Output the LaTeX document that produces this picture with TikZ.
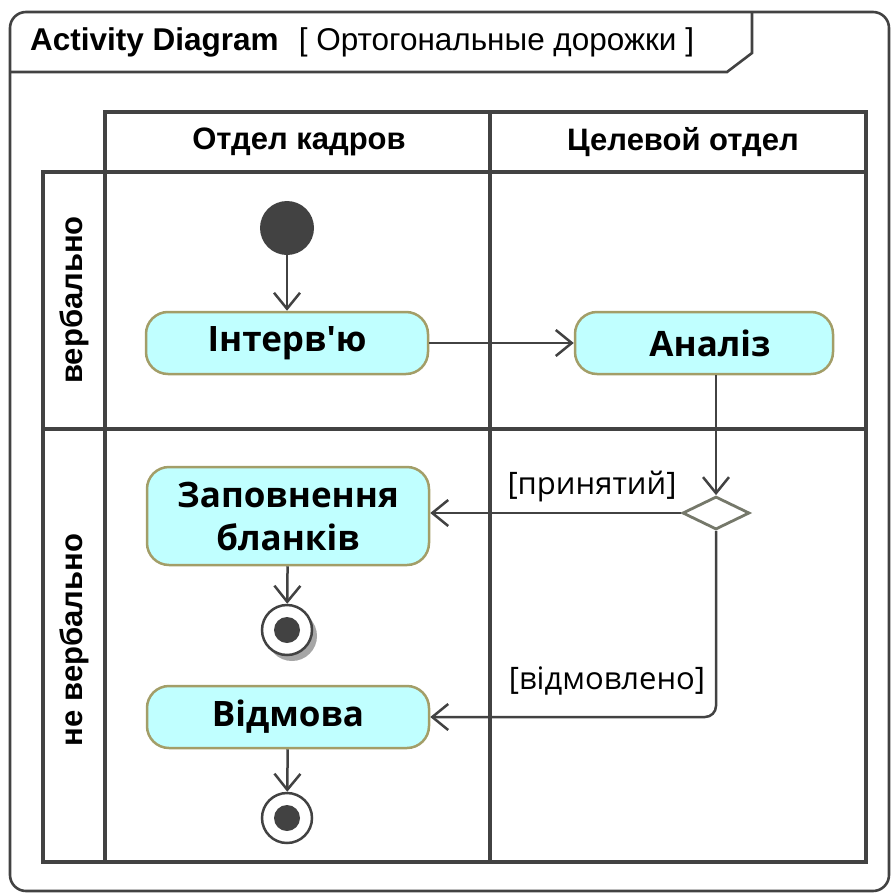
\documentclass[tikz,border=0pt]{standalone}
\usepackage{fontspec}
\setmainfont{Liberation Sans}
\newfontfamily\actfont{Open Sans}
\usetikzlibrary{arrows.meta,shapes.geometric,shadows}

\definecolor{linec}{HTML}{424242}
\definecolor{actfill}{HTML}{C0FFFF}
\definecolor{actedge}{HTML}{A39E68}
\definecolor{decedge}{HTML}{75786A}

\begin{document}
\begin{tikzpicture}[x=1pt,y=-1pt,
  frameline/.style={draw=linec,line width=2.6pt},
  laneline/.style={draw=linec,line width=4.8pt,line cap=rect},
  hdr/.style={font=\bfseries\fontsize{31}{37}\selectfont,inner sep=0pt},
  action/.style={draw=actedge,fill=actfill,line width=2.5pt,rounded corners=22pt,
    minimum width=282pt,inner sep=0pt,align=center,
    font=\actfont\bfseries\fontsize{35}{43}\selectfont},
  initnode/.style={circle,fill=linec,minimum size=54pt,inner sep=0pt},
  finalnode/.style={circle,draw=linec,line width=2.5pt,fill=white,minimum size=50pt,inner sep=0pt,
    path picture={\fill[linec] (path picture bounding box.center) circle (13pt);}},
  decision/.style={diamond,draw=decedge,line width=2.8pt,fill=white,aspect=2,
    minimum width=67pt,minimum height=33pt,inner sep=0pt},
  flow/.style={draw=linec,line width=2.5pt,
    -{Straight Barb[length=16pt,width=26pt,line width=2.5pt]}},
  guard/.style={font=\actfont\fontsize{31}{37}\selectfont,inner sep=0pt,anchor=base}
]
\useasboundingbox (0,0) rectangle (891,894);

% diagram frame with its name tab
\draw[frameline,rounded corners=16pt] (10,12) rectangle (889,891);
\draw[frameline] (10,72) -- (727,72) -- (752,53) -- (752,12);
\node[anchor=base west,inner sep=0pt] (title) at (30,50)
  {\fontsize{31.5}{38}\selectfont\textbf{Activity Diagram}\hspace{20pt}[ Ортогональные дорожки ]};

% swimlane grid
\draw[laneline] (105,112) -- (866,112);
\draw[laneline] (43,172) -- (866,172);
\draw[laneline] (43,429) -- (866,429);
\draw[laneline] (43,862) -- (866,862);
\draw[laneline] (43,172) -- (43,862);
\draw[laneline] (105,112) -- (105,862);
\draw[laneline] (490,112) -- (490,862);
\draw[laneline] (866,112) -- (866,862);

\node[hdr] (colA) at (299,142) {Отдел кадров};
\node[hdr] (colB) at (683,142) {Целевой отдел};
\node[hdr,rotate=90] (rowA) at (74,300) {вербально};
\node[hdr,rotate=90] (rowB) at (74,640) {не вербально};

% activity nodes
\node[initnode] (start) at (287,228) {};
\node[action,minimum height=62pt] (interview) at (287,343) {Інтерв\textquotesingle ю};
\node[action,minimum width=258pt,minimum height=62pt] (analysis) at (704,343) {\hspace{12pt}Аналіз};
\node[decision] (dec) at (716,513) {};
\node[action,minimum height=98pt] (forms) at (288,516) {Заповнення\\бланків};
\node[finalnode,drop shadow={shadow xshift=5pt,shadow yshift=-6pt,fill=black!35,opacity=1}] (end1) at (287,630) {};
\node[action,minimum height=62pt] (refuse) at (288,717) {Відмова};
\node[finalnode] (end2) at (287,818) {};

% control flows
\draw[flow] (start) -- (interview);
\draw[flow] (interview) -- (analysis);
\draw[flow] (dec.north |- analysis.south) -- (dec.north);
\draw[flow] (dec.west) -- (dec.west -| forms.east);
\draw[flow] (forms) -- (end1);
\draw[flow,rounded corners=11pt] (dec.south) |- (refuse.east);
\draw[flow] (refuse) -- (end2);

% guards
\node[guard] (gyes) at (592,494) {[принятий]};
\node[guard] (gno) at (607,689) {[відмовлено]};
\end{tikzpicture}
\end{document}
